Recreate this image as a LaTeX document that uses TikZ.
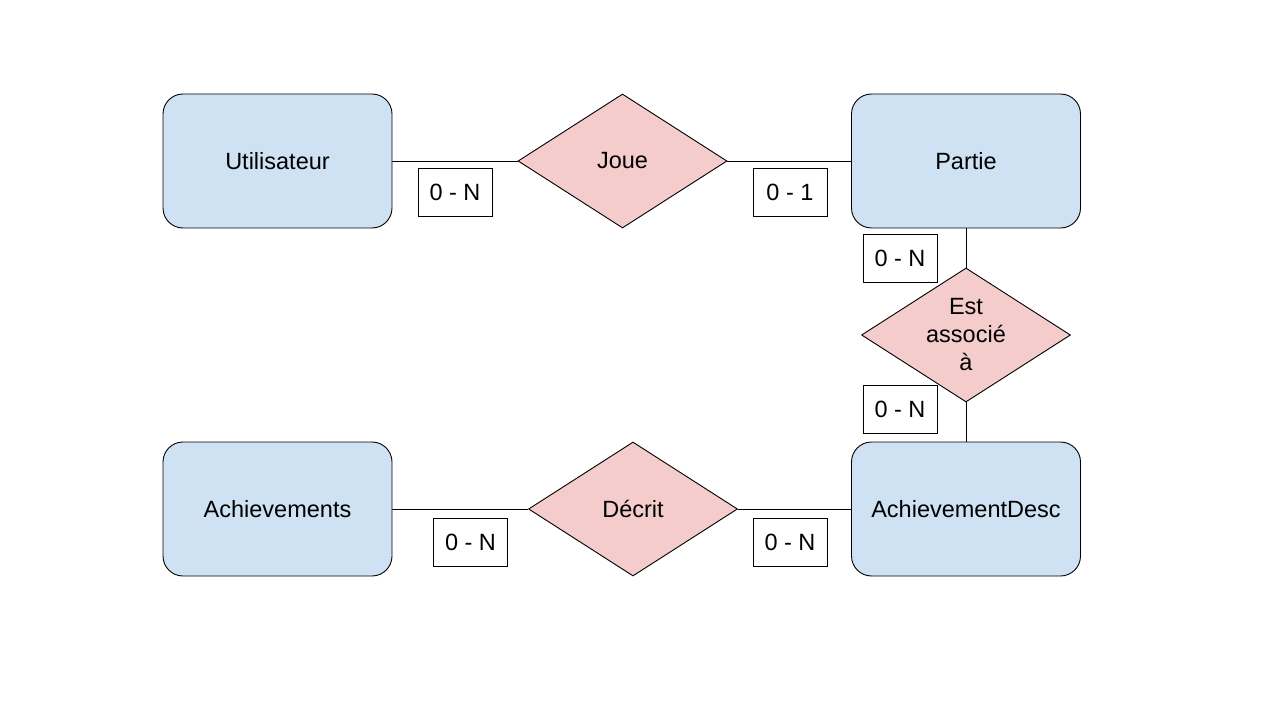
\documentclass[tikz,border=0pt]{standalone}
\usepackage{fontspec}
\setmainfont{Liberation Sans}
\usetikzlibrary{shapes.geometric}
\definecolor{entblue}{HTML}{CFE2F3}
\definecolor{relpink}{HTML}{F4CCCC}
\begin{document}
\begin{tikzpicture}[x=1pt,y=-1pt,
  every node/.style={font=\fontsize{23.5}{28}\selectfont},
  entity/.style={draw=black, fill=entblue, rounded corners=20pt, minimum width=229pt, minimum height=134pt, inner sep=0pt, line width=0.9pt},
  relation/.style={draw=black, fill=relpink, diamond, minimum width=209pt, minimum height=134pt, inner sep=0pt, line width=0.9pt, align=center},
  card/.style={draw=black, fill=white, minimum width=74pt, minimum height=48pt, inner sep=0pt, line width=0.9pt},
  link/.style={draw=black, line width=0.9pt}]
\useasboundingbox (0,0) rectangle (1266,719);
\fill[white] (0,0) rectangle (1266,719);
\node[entity] (U) at (277.5,161) {Utilisateur};
\node[entity] (P) at (966,161) {Partie};
\node[entity] (A) at (277.5,509) {Achievements};
\node[entity] (AD) at (966,509) {AchievementDesc};
\node[relation] (J) at (622.5,161) {Joue};
\node[relation] (D) at (633,509) {Décrit};
\node[relation] (E) at (966,335) {};
\node[align=center, inner sep=0pt] (Etext) at (E.center) {Est\\associé\\à};
\draw[link] (U.east) -- (J.west);
\draw[link] (J.east) -- (P.west);
\draw[link] (P.south) -- (E.north);
\draw[link] (E.south) -- (AD.north);
\draw[link] (A.east) -- (D.west);
\draw[link] (D.east) -- (AD.west);
\node[card] (c1) at (455,192) {0 - N};
\node[card] (c2) at (790,192) {0 - 1};
\node[card] (c3) at (900,258) {0 - N};
\node[card] (c4) at (900,409) {0 - N};
\node[card] (c5) at (470.5,542) {0 - N};
\node[card] (c6) at (790,542) {0 - N};
\end{tikzpicture}
\end{document}
